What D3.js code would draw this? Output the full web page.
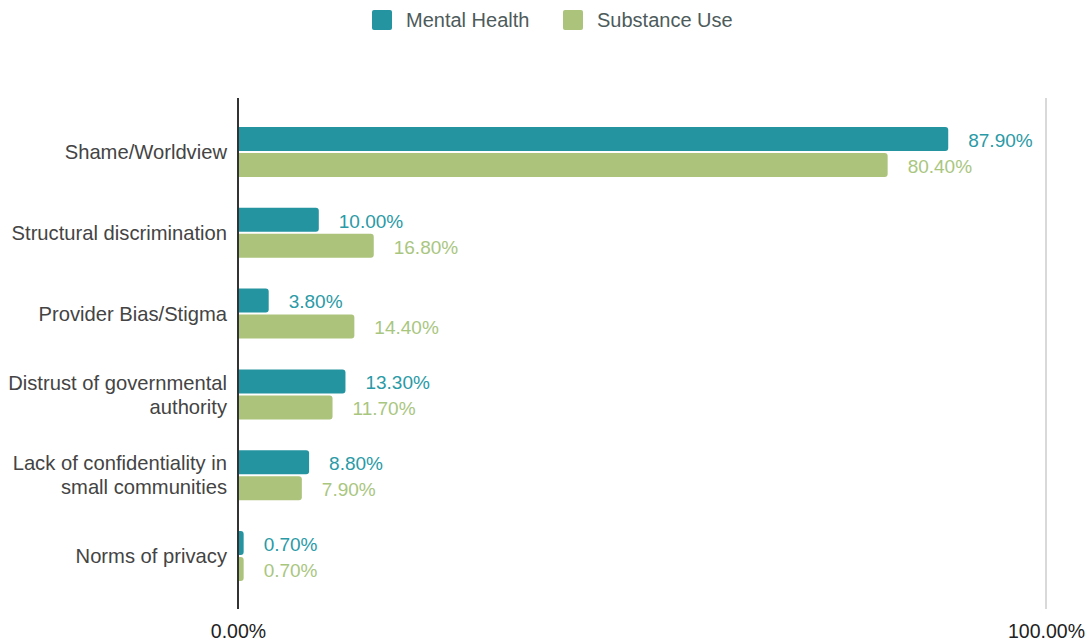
<!DOCTYPE html>
<html>
<head>
<meta charset="utf-8">
<script src="https://cdn.jsdelivr.net/npm/d3@7"></script>
<style>
  html, body { margin: 0; padding: 0; background: #fff; }
  svg { display: block; }
</style>
</head>
<body>
<svg id="chart" width="1090" height="641"></svg>
<script>
// Barriers to care, share of responses by field
const categories = [
  ["Shame/Worldview"],
  ["Structural discrimination"],
  ["Provider Bias/Stigma"],
  ["Distrust of governmental", "authority"],
  ["Lack of confidentiality in", "small communities"],
  ["Norms of privacy"]
];
const seriesNames = ["Mental Health", "Substance Use"];
const mentalHealth = [87.9, 10.0, 3.8, 13.3, 8.8, 0.7];
const substanceUse = [80.4, 16.8, 14.4, 11.7, 7.9, 0.7];
const tickValues = [0, 100];

const barColors = ["#2494a0", "#abc37a"];
const labelColors = ["#2a9aa6", "#a9c67f"];

const svg = d3.select("#chart");
const x0 = 238, x1 = 1046;
const plotTop = 98, plotBottom = 609;

const x = d3.scaleLinear().domain([0, 100]).range([x0, x1]);
const y = d3.scaleBand()
  .domain(d3.range(categories.length))
  .range([111.6, 596.4]);

const font = "'Liberation Sans', Arial, sans-serif";

// gridline at 100%
svg.append("line")
  .attr("x1", x(100)).attr("x2", x(100))
  .attr("y1", plotTop).attr("y2", plotBottom)
  .attr("stroke", "#cccccc").attr("stroke-width", 1.5);

// bars with rounded right ends
function barPath(xs, xe, yt, h, r) {
  const w = xe - xs;
  r = Math.min(r, w, h / 2);
  return `M${xs},${yt}H${xe - r}Q${xe},${yt} ${xe},${yt + r}V${yt + h - r}Q${xe},${yt + h} ${xe - r},${yt + h}H${xs}Z`;
}

const barH = 24, gap = 2;
const series = [mentalHealth, substanceUse];

series.forEach((vals, si) => {
  const g = svg.append("g");
  g.selectAll("path")
    .data(vals)
    .join("path")
    .attr("d", (v, i) => {
      const c = y(i) + y.bandwidth() / 2;
      const yt = si === 0 ? c - barH - gap / 2 : c + gap / 2;
      return barPath(x(0), x(v), yt, barH, 3);
    })
    .attr("fill", barColors[si]);

  g.selectAll("text")
    .data(vals)
    .join("text")
    .attr("x", v => x(v) + 20)
    .attr("y", (v, i) => {
      const c = y(i) + y.bandwidth() / 2;
      return si === 0 ? c - barH / 2 - gap / 2 + 1 : c + barH / 2 + gap / 2 + 1;
    })
    .attr("dy", "0.36em")
    .attr("fill", labelColors[si])
    .attr("font-family", font)
    .attr("font-size", 19)
    .text(v => v.toFixed(2) + "%");
});

// zero axis line
svg.append("line")
  .attr("x1", x(0)).attr("x2", x(0))
  .attr("y1", plotTop).attr("y2", plotBottom)
  .attr("stroke", "#333333").attr("stroke-width", 2);

// category labels
const catG = svg.append("g");
categories.forEach((lines, i) => {
  const c = y(i) + y.bandwidth() / 2;
  const lh = 24;
  const t = catG.append("text")
    .attr("text-anchor", "end")
    .attr("font-family", font)
    .attr("font-size", 20.2)
    .attr("fill", "#444444");
  lines.forEach((ln, k) => {
    t.append("tspan")
      .attr("x", 227)
      .attr("y", c + (k - (lines.length - 1) / 2) * lh)
      .attr("dy", "0.36em")
      .text(ln);
  });
});

// x tick labels
const xAxis = d3.axisBottom(x)
  .tickValues(tickValues)
  .tickSize(0)
  .tickPadding(0)
  .tickFormat(d => d.toFixed(2) + "%");
const axG = svg.append("g")
  .attr("transform", `translate(0, 624)`)
  .call(xAxis);
axG.select(".domain").remove();
axG.selectAll("text")
  .attr("font-family", font)
  .attr("font-size", 19.5)
  .attr("fill", "#222222");

// legend
const legendX = [372, 563];
const leg = svg.append("g");
seriesNames.forEach((name, i) => {
  leg.append("rect")
    .attr("x", legendX[i]).attr("y", 10)
    .attr("width", 20).attr("height", 20)
    .attr("rx", 2)
    .attr("fill", barColors[i]);
  leg.append("text")
    .attr("x", legendX[i] + 34).attr("y", 20)
    .attr("dy", "0.36em")
    .attr("font-family", font)
    .attr("font-size", 20)
    .attr("fill", "#4d5b5b")
    .text(name);
});
</script>
</body>
</html>
